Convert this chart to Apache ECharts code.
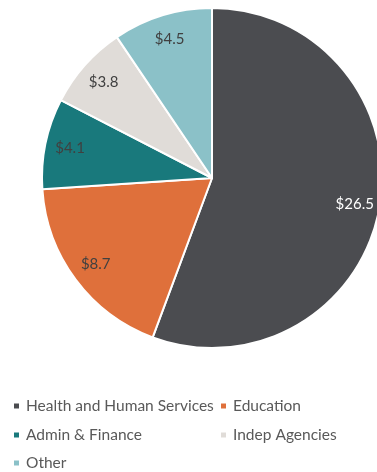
<!DOCTYPE html>
<html><head><meta charset="utf-8">
<script src="https://cdn.jsdelivr.net/npm/echarts@6/dist/echarts.min.js"></script>
<style>html,body{margin:0;padding:0;background:#fff}#c{width:377px;height:472px}</style>
</head><body><div id="c"></div>
<script>
const categories = ["Health and Human Services", "Education", "Admin & Finance", "Indep Agencies", "Other"];
const values = [26.5, 8.7, 4.1, 3.8, 4.5];
const colors = ["#4b4c50", "#df703b", "#19797c", "#e0dcd8", "#8bc1c8"];
const labelColors = ["#ffffff", "#404040", "#404040", "#404040", "#404040"];

const chart = echarts.init(document.getElementById('c'));
const font = 'Lato, "Open Sans", sans-serif';
const legendPos = [[12, 406], [219, 406], [12, 435], [219, 435], [12, 463]];
const legends = categories.map((n, i) => ({
  orient: 'horizontal', itemWidth: 7, itemHeight: 7, icon: 'rect', padding: 0,
  left: legendPos[i][0], top: legendPos[i][1] - 9,
  textStyle: { fontFamily: font, fontSize: 15.5, lineHeight: 18, color: '#595959', padding: [0,0,0,1] },
  selectedMode: false,
  data: [n]
}));
chart.setOption({
  animation: false,
  color: colors,
  legend: legends,
  series: [{
    type: 'pie',
    center: [212, 178],
    radius: [0, 170],
    startAngle: 90,
    clockwise: true,
    itemStyle: { borderColor: '#fff', borderWidth: 2 },
    label: { show: false },
    labelLine: { show: false },
    emphasis: { disabled: true },
    data: categories.map((n, i) => ({ name: n, value: values[i] }))
  }, {
    type: 'pie',
    center: [212, 178],
    radius: [114, 170],
    startAngle: 90,
    clockwise: true,
    silent: true,
    itemStyle: { color: 'rgba(0,0,0,0)', borderWidth: 0 },
    label: {
      position: 'inside',
      fontFamily: font, fontSize: 15,
      formatter: p => '$' + p.value.toFixed(1)
    },
    labelLine: { show: false },
    emphasis: { disabled: true },
    data: categories.map((n, i) => ({
      name: n, value: values[i],
      label: { color: labelColors[i] }
    }))
  }]
});
</script></body></html>
